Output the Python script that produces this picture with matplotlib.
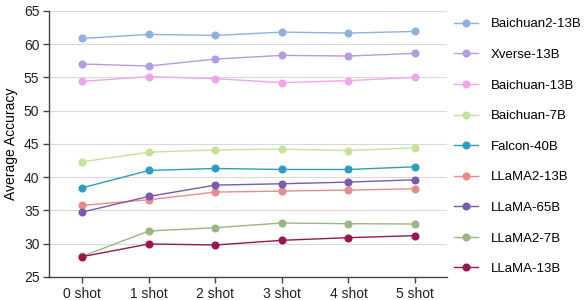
import matplotlib
matplotlib.use('Agg')
import matplotlib.pyplot as plt

SHOTS = ['0 shot', '1 shot', '2 shot', '3 shot', '4 shot', '5 shot']

MODELS = ['Baichuan2-13B', 'Xverse-13B', 'Baichuan-13B', 'Baichuan-7B',
          'Falcon-40B', 'LLaMA2-13B', 'LLaMA-65B', 'LLaMA2-7B', 'LLaMA-13B']

baichuan2_13b = [60.85, 61.45, 61.3, 61.8, 61.65, 61.9]
xverse_13b = [57.0, 56.7, 57.75, 58.3, 58.2, 58.6]
baichuan_13b = [54.4, 55.1, 54.8, 54.2, 54.5, 55.0]
baichuan_7b = [42.3, 43.75, 44.1, 44.2, 44.0, 44.4]
falcon_40b = [38.4, 41.0, 41.3, 41.15, 41.15, 41.55]
llama2_13b = [35.75, 36.6, 37.75, 37.9, 38.05, 38.25]
llama_65b = [34.75, 37.1, 38.8, 39.0, 39.25, 39.6]
llama2_7b = [28.1, 31.9, 32.4, 33.1, 33.0, 32.95]
llama_13b = [28.05, 29.95, 29.8, 30.5, 30.9, 31.2]

SERIES = [baichuan2_13b, xverse_13b, baichuan_13b, baichuan_7b, falcon_40b,
          llama2_13b, llama_65b, llama2_7b, llama_13b]
COLORS = ['#8db2df', '#b59cde', '#f0a6e9', '#c6e29a', '#2e9dc0',
          '#e98b8c', '#7a5aad', '#9bb683', '#9a1650']

plt.rcParams['font.family'] = ['Liberation Sans', 'DejaVu Sans']
plt.rcParams['font.size'] = 10

fig = plt.figure(figsize=(5.85, 3.0), dpi=100)
ax = fig.add_axes([0.084, 0.077, 0.68, 0.887])

x = list(range(len(SHOTS)))
for name, vals, col in zip(MODELS, SERIES, COLORS):
    ax.plot(x, vals, color=col, linewidth=1.0, marker='o', markersize=4.8,
            label=name)

ax.set_xlim(-0.5, 5.48)
ax.set_ylim(25, 65)
ax.set_yticks(range(25, 66, 5))
ax.set_xticks(x)
ax.set_xticklabels(SHOTS)
ax.set_ylabel('Average Accuracy', fontsize=10, labelpad=4)
ax.yaxis.grid(True, color='#d9d9d9', linewidth=0.8)
ax.set_axisbelow(True)
for side in ['top', 'right']:
    ax.spines[side].set_visible(False)
for side in ['left', 'bottom']:
    ax.spines[side].set_color('#444444')
    ax.spines[side].set_linewidth(1.0)
ax.tick_params(axis='both', colors='#444444', labelcolor='#222222',
               labelsize=10, length=4, width=1.0, pad=3)

fig.legend(loc='upper left', bbox_to_anchor=(0.76, 0.97), frameon=False,
           fontsize=9.5, handlelength=1.8, handletextpad=1.0,
           labelspacing=1.39, borderaxespad=0.3)

fig.savefig('out.png', dpi=100)
